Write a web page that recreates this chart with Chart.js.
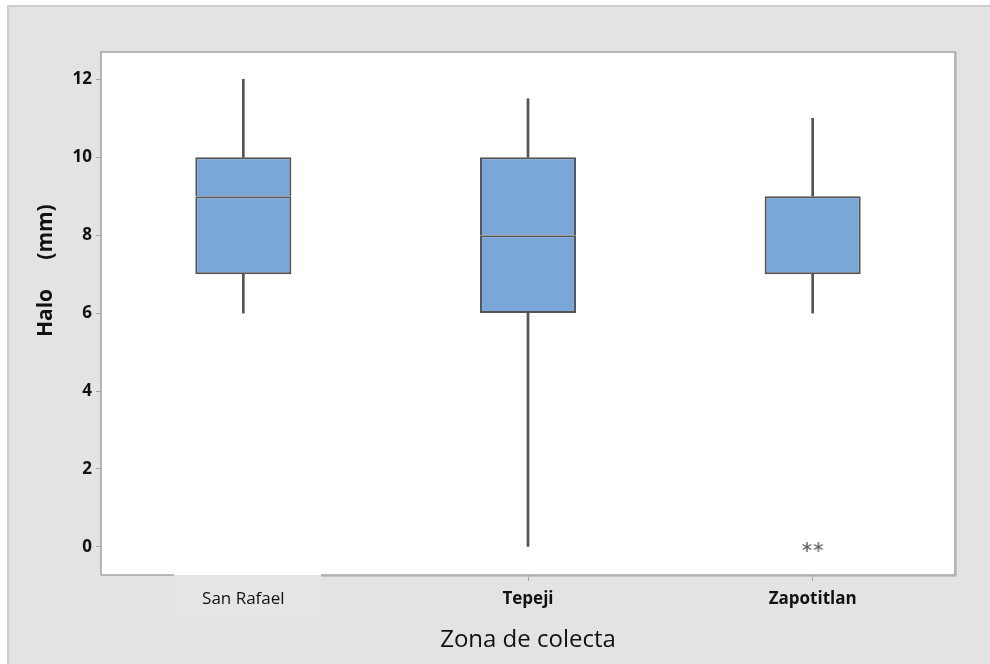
<!DOCTYPE html>
<html>
<head>
<meta charset="utf-8">
<script src="https://cdn.jsdelivr.net/npm/chart.js@4"></script>
<style>
  html, body { margin: 0; padding: 0; background: #ffffff; }
  #wrap { position: relative; width: 990px; height: 664px; }
</style>
</head>
<body>
<div id="wrap"><canvas id="c"></canvas></div>
<script>
// ---- data ----
const categories   = ['San Rafael', 'Tepeji', 'Zapotitlan'];
const whiskerLow   = [6, 0, 6];
const q1           = [7, 6, 7];
const median       = [9, 8, 9];
const q3           = [10, 10, 9];
const whiskerHigh  = [12, 11.5, 11];
const outlierCat   = [2, 2];      // category index of each outlier
const outlierVals  = [0, 0];
const yTicks       = [0, 2, 4, 6, 8, 10, 12];
const xTitle = 'Zona de colecta';
const yTitleParts = ['Halo', '(mm)'];

// ---- styles ----
const BOX_FILL = '#7ba7d8';
const LINE = '#545454';
const FONT = '"Open Sans", "Noto Sans", sans-serif';

// asterisk marker
function makeAsterisk() {
  const c = document.createElement('canvas');
  c.width = 12; c.height = 12;
  const g = c.getContext('2d');
  g.strokeStyle = '#5e5e5e';
  g.lineWidth = 1.4;
  const cx = 6, cy = 6, r = 5;
  [90, 30, 150].forEach(a => {
    const t = a * Math.PI / 180;
    g.beginPath();
    g.moveTo(cx - r * Math.cos(t), cy - r * Math.sin(t));
    g.lineTo(cx + r * Math.cos(t), cy + r * Math.sin(t));
    g.stroke();
  });
  return c;
}
const asterisk = makeAsterisk();

const bgPlugin = {
  id: 'bg',
  beforeDraw(chart) {
    const { ctx, chartArea: a, width, height } = chart;
    ctx.save();
    ctx.fillStyle = '#ffffff';
    ctx.fillRect(0, 0, width, height);
    ctx.fillStyle = '#e3e3e3';
    ctx.fillRect(7, 5, width - 7, height - 5);
    ctx.fillStyle = '#cdcdcd';
    ctx.fillRect(7, 5, width - 7, 2);
    ctx.fillRect(7, 5, 2, height - 5);
    // label box behind first category label
    ctx.fillStyle = '#e5e5e5';
    ctx.fillRect(174, a.bottom + 1, 147, 42);
    // plot area
    ctx.fillStyle = '#ffffff';
    ctx.fillRect(a.left, a.top, a.right - a.left, a.bottom - a.top);
    ctx.restore();
  },
  beforeDatasetsDraw(chart) {
    const { ctx, chartArea: a } = chart;
    ctx.save();
    ctx.strokeStyle = '#a3a3a3';
    ctx.lineWidth = 1.5;
    ctx.beginPath();
    ctx.moveTo(a.left, a.bottom); ctx.lineTo(a.left, a.top);
    ctx.lineTo(a.right, a.top); ctx.lineTo(a.right, a.bottom);
    ctx.lineTo(321, a.bottom);
    ctx.moveTo(174, a.bottom); ctx.lineTo(a.left, a.bottom);
    ctx.stroke();
    ctx.strokeStyle = '#c4c4c4';
    ctx.lineWidth = 1;
    ctx.beginPath();
    ctx.moveTo(a.right + 1.5, a.top); ctx.lineTo(a.right + 1.5, a.bottom + 1.5);
    ctx.lineTo(321, a.bottom + 1.5);
    ctx.stroke();
    ctx.restore();
  },
  afterDraw(chart) {
    const { ctx } = chart;
    ctx.save();
    ctx.fillStyle = '#111111';
    ctx.font = 'bold 21px ' + FONT;
    ctx.textAlign = 'center';
    ctx.textBaseline = 'middle';
    ctx.translate(46, 0);
    ctx.rotate(-Math.PI / 2);
    ctx.fillText(yTitleParts[0], -313, 0);
    ctx.fillText(yTitleParts[1], -232, 0);
    ctx.restore();
  }
};

const boxBase = {
  type: 'bar',
  backgroundColor: BOX_FILL,
  borderColor: LINE,
  borderWidth: 2,
  grouped: false,
  barPercentage: 0.3375,
  categoryPercentage: 1
};
const whiskerBase = {
  type: 'bar',
  backgroundColor: LINE,
  borderWidth: 0,
  grouped: false,
  barThickness: 2,
  order: 3
};

new Chart(document.getElementById('c'), {
  data: {
    labels: categories,
    datasets: [
      Object.assign({ label: 'lower whisker', data: categories.map((_, i) => [whiskerLow[i], q1[i]]) }, whiskerBase),
      Object.assign({ label: 'upper whisker', data: categories.map((_, i) => [q3[i], whiskerHigh[i]]) }, whiskerBase),
      Object.assign({ label: 'Q1-median', data: categories.map((_, i) => [q1[i], median[i]]),
                      borderSkipped: false, order: 1 }, boxBase),
      Object.assign({ label: 'median-Q3', data: categories.map((_, i) => [median[i], q3[i]]),
                      borderSkipped: 'bottom', order: 2 }, boxBase),
      {
        type: 'scatter',
        label: 'outliers',
        xAxisID: 'xo',
        data: outlierVals.map((v, i) => ({ x: outlierCat[i] + (i % 2 === 0 ? -0.02 : 0.02), y: v })),
        pointStyle: asterisk,
        pointRadius: 6,
        order: 0
      }
    ]
  },
  options: {
    responsive: true,
    maintainAspectRatio: false,
    animation: false,
    layout: { padding: { left: 0, top: 52, right: 35, bottom: 0 } },
    plugins: { legend: { display: false }, tooltip: { enabled: false }, title: { display: false } },
    scales: {
      x: {
        type: 'category',
        offset: true,
        border: { display: false },
        grid: {
          display: true, drawOnChartArea: false, drawTicks: true, tickLength: 6,
          tickColor: (c) => c.index === 0 ? 'rgba(0,0,0,0)' : '#a3a3a3', tickWidth: 1, offset: false
        },
        ticks: {
          color: '#111111',
          padding: 8,
          font: (c) => ({ family: FONT, size: 17, weight: c.index === 0 ? 'normal' : 'bold' })
        },
        title: {
          display: true, text: xTitle, color: '#111111',
          font: { family: FONT, size: 24, weight: 'normal' },
          padding: { top: 0, bottom: 9 }
        },
        afterFit(s) { s.height = 89; }
      },
      xo: {
        type: 'linear', display: false, min: -0.5, max: 2.5
      },
      y: {
        type: 'linear',
        min: -0.72, max: 12.7,
        border: { display: false },
        grid: { display: true, drawOnChartArea: false, drawTicks: true, tickLength: 5, tickColor: '#a3a3a3', tickWidth: 1 },
        ticks: { color: '#111111', padding: 4, font: { family: FONT, size: 17, weight: 'bold' } },
        afterBuildTicks(s) { s.ticks = yTicks.map(v => ({ value: v })); },
        afterFit(s) { s.width = 101; }
      }
    }
  },
  plugins: [bgPlugin]
});
</script>
</body>
</html>
